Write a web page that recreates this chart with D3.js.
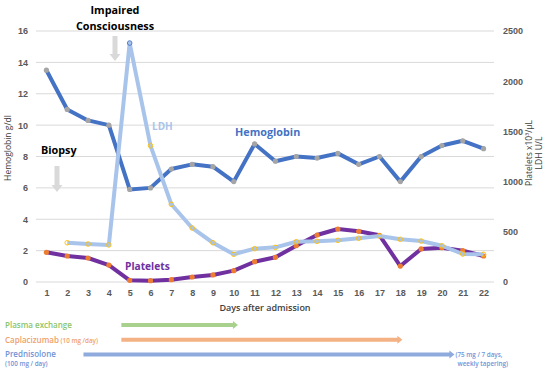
<!DOCTYPE html>
<html>
<head>
<meta charset="utf-8">
<script src="https://cdn.jsdelivr.net/npm/d3@7"></script>
<style>
  body { margin: 0; background: #fff; }
  svg { display: block; font-family: "Open Sans", "Noto Sans", sans-serif; }
  .tick text { fill: #595959; font-size: 9px; font-weight: 600; }
  .grid { stroke: #d9d9d9; stroke-width: 1; }
</style>
</head>
<body>
<script>
(function () {
  "use strict";

  var days = d3.range(1, 23);
  var hemoglobin = [13.5, 11.0, 10.3, 10.0, 5.9, 6.0, 7.2, 7.5, 7.35, 6.4, 8.8, 7.7,
    8.0, 7.9, 8.2, 7.5, 8.0, 6.4, 8.0, 8.7, 9.0, 8.5];
  var platelets = [296, 259, 239, 169, 17, 13, 23, 50, 70, 113, 202, 246,
    361, 468, 528, 505, 465, 159, 329, 342, 312, 259];
  // LDH starts on day 2
  var ldh = [null, 391, 378, 369, 2380, 1358, 774, 538, 391, 276, 332, 345,
    401, 405, 415, 435, 458, 425, 408, 361, 279, 276];
  var leftTicks = [0, 2, 4, 6, 8, 10, 12, 14, 16];
  var rightTicks = [0, 500, 1000, 1500, 2000, 2500];
  var treatments = [
    { name: "Plasma exchange", dose: "", from: 4.6, to: 10.2, color: "#a9d18e", text: "#8cc46a" },
    { name: "Caplacizumab", dose: " (10 mg /day)", from: 4.6, to: 18.1, color: "#f4b183", text: "#f0a06a" },
    { name: "Prednisolone", dose: "(100 mg / day)", from: 2.78, to: 20.6, color: "#8faadc", text: "#6f94d8" }
  ];

  var width = 550, height = 375,
    top = 31, bottom = 282, left = 36, right = 494;

  var svg = d3.select("body").append("svg")
    .attr("width", width)
    .attr("height", height);

  var x = d3.scalePoint().domain(days).range([left, right]).padding(0.5);
  var y = d3.scaleLinear().domain([0, 16]).range([bottom, top]);
  var y2 = d3.scaleLinear().domain([0, 2500]).range([bottom, top]);
  var step = x.step();
  var xd = function (d) { return x(1) + (d - 1) * step; };

  // gridlines
  svg.append("g").selectAll("line")
    .data(leftTicks)
    .enter().append("line")
    .attr("class", "grid")
    .attr("x1", left).attr("x2", right)
    .attr("y1", function (d) { return y(d); })
    .attr("y2", function (d) { return y(d); });

  // axes
  svg.append("g")
    .attr("transform", "translate(" + (left - 8) + ",0)")
    .call(d3.axisLeft(y).tickValues(leftTicks).tickSize(0).tickPadding(0))
    .call(function (g) { g.select(".domain").remove(); });

  svg.append("g")
    .attr("transform", "translate(" + (right + 9) + ",0)")
    .call(d3.axisRight(y2).tickValues(rightTicks).tickFormat(d3.format("d")).tickSize(0).tickPadding(0))
    .call(function (g) { g.select(".domain").remove(); });

  svg.append("g")
    .attr("transform", "translate(0," + (bottom + 6) + ")")
    .call(d3.axisBottom(x).tickSize(0).tickPadding(2))
    .call(function (g) { g.select(".domain").remove(); });

  // axis titles
  svg.append("text")
    .attr("transform", "translate(11,148) rotate(-90)")
    .attr("text-anchor", "middle")
    .attr("font-size", 8.5)
    .attr("fill", "#404040")
    .text("Hemoglobin g/dl");

  var rt = svg.append("text")
    .attr("transform", "translate(532,153) rotate(-90)")
    .attr("text-anchor", "middle")
    .attr("font-size", 8.5)
    .attr("fill", "#404040");
  rt.append("tspan").attr("x", 0).attr("dy", 0).text("Platelets x10³/µL");
  rt.append("tspan").attr("x", 0).attr("dy", 10).text("LDH U/L");

  svg.append("text")
    .attr("x", 265).attr("y", 311)
    .attr("text-anchor", "middle")
    .attr("font-size", 9)
    .attr("font-weight", 600)
    .attr("fill", "#404040")
    .text("Days after admission");

  // series
  var lineL = d3.line()
    .x(function (d, i) { return x(days[i]); })
    .y(function (d) { return y(d); });
  var lineR = d3.line()
    .defined(function (d) { return d !== null; })
    .x(function (d, i) { return x(days[i]); })
    .y(function (d) { return y2(d); });

  svg.append("path")
    .datum(hemoglobin)
    .attr("d", lineL)
    .attr("fill", "none")
    .attr("stroke", "#4472c4")
    .attr("stroke-width", 4)
    .attr("stroke-linejoin", "round");
  svg.append("g").selectAll("circle")
    .data(hemoglobin)
    .enter().append("circle")
    .attr("cx", function (d, i) { return x(days[i]); })
    .attr("cy", function (d) { return y(d); })
    .attr("r", 2.6)
    .attr("fill", "#a5a5a5");

  svg.append("path")
    .datum(platelets)
    .attr("d", lineR)
    .attr("fill", "none")
    .attr("stroke", "#7030a0")
    .attr("stroke-width", 4)
    .attr("stroke-linejoin", "round");
  svg.append("g").selectAll("circle")
    .data(platelets)
    .enter().append("circle")
    .attr("cx", function (d, i) { return x(days[i]); })
    .attr("cy", function (d) { return y2(d); })
    .attr("r", 2.6)
    .attr("fill", "#ed7d31");

  svg.append("path")
    .datum(ldh)
    .attr("d", lineR)
    .attr("fill", "none")
    .attr("stroke", "#a9c4eb")
    .attr("stroke-width", 4)
    .attr("stroke-linejoin", "round");
  svg.append("g").selectAll("circle")
    .data(ldh.map(function (d, i) { return [days[i], d]; }).filter(function (d) { return d[1] !== null; }))
    .enter().append("circle")
    .attr("cx", function (d) { return x(d[0]); })
    .attr("cy", function (d) { return y2(d[1]); })
    .attr("r", 2.3)
    .attr("fill", "none")
    .attr("stroke", function (d) { return d[0] === 5 ? "#4472c4" : "#ffc000"; })
    .attr("stroke-width", 0.9);

  // series labels
  svg.append("text").attr("x", 235).attr("y", 136)
    .attr("font-size", 10.8).attr("font-weight", "bold").attr("fill", "#4472c4")
    .text("Hemoglobin");
  svg.append("text").attr("x", 152).attr("y", 130)
    .attr("font-size", 10).attr("font-weight", "bold").attr("fill", "#a9c4eb")
    .text("LDH");
  svg.append("text").attr("x", 125).attr("y", 270)
    .attr("font-size", 10.2).attr("font-weight", "bold").attr("fill", "#7030a0")
    .text("Platelets");

  // events
  var ev = svg.append("text")
    .attr("text-anchor", "middle")
    .attr("font-size", 10.8).attr("font-weight", "bold").attr("fill", "#000");
  ev.append("tspan").attr("x", 115).attr("y", 14).text("Impaired");
  ev.append("tspan").attr("x", 115).attr("y", 30).text("Consciousness");
  svg.append("text").attr("x", 41).attr("y", 154)
    .attr("font-size", 10.8).attr("font-weight", "bold").attr("fill", "#000")
    .text("Biopsy");

  function downArrow(cx, y0, y1) {
    svg.append("path")
      .attr("d", "M" + (cx - 2.5) + "," + y0 + "H" + (cx + 2.5) + "V" + (y1 - 7) +
        "H" + (cx + 5.5) + "L" + cx + "," + y1 + "L" + (cx - 5.5) + "," + (y1 - 7) +
        "H" + (cx - 2.5) + "Z")
      .attr("fill", "#d9d9d9");
  }
  downArrow(57, 166, 192);
  downArrow(115, 36, 61);

  // treatment arrows
  treatments.forEach(function (t, i) {
    var yy = 325 + i * 14.7, x0 = xd(t.from), x1 = xd(t.to);
    svg.append("line")
      .attr("x1", x0).attr("x2", x1 - 4)
      .attr("y1", yy).attr("y2", yy)
      .attr("stroke", t.color).attr("stroke-width", 4);
    svg.append("path")
      .attr("d", "M" + (x1 - 5) + "," + (yy - 4) + "L" + x1 + "," + yy + "L" + (x1 - 5) + "," + (yy + 4) + "Z")
      .attr("fill", t.color);
    var tx = svg.append("text")
      .attr("x", 5).attr("y", yy + 3)
      .attr("font-size", 8).attr("font-weight", 600).attr("fill", t.text);
    tx.append("tspan").text(t.name);
    if (i === 1) {
      tx.append("tspan").attr("font-size", 6.3).text(t.dose);
    } else if (i === 2) {
      svg.append("text").attr("x", 5).attr("y", yy + 12)
        .attr("font-size", 6.3).attr("font-weight", 600).attr("fill", t.text).text(t.dose);
      svg.append("text").attr("x", x1 + 1).attr("y", yy + 3)
        .attr("font-size", 6.3).attr("font-weight", 600).attr("fill", t.text).text("(75 mg / 7 days,");
      svg.append("text").attr("x", 508).attr("y", yy + 12)
        .attr("font-size", 6.3).attr("font-weight", 600).attr("fill", t.text).attr("text-anchor", "end")
        .text("weekly tapering)");
    }
  });
})();
</script>
</body>
</html>
